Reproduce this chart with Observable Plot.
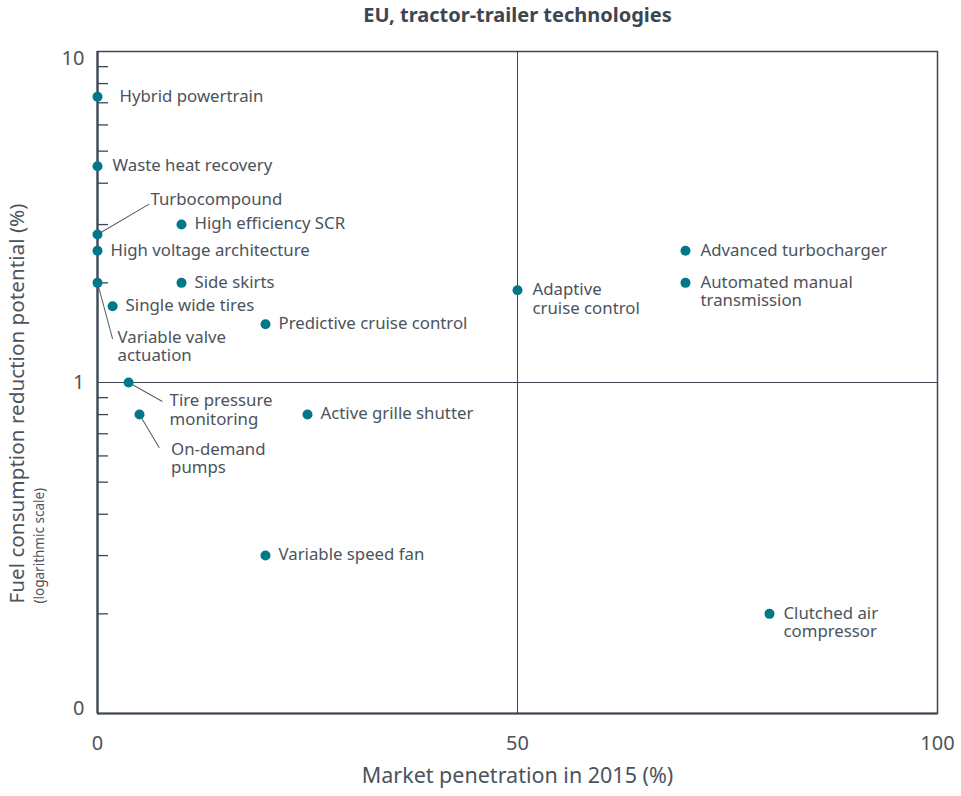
<!DOCTYPE html>
<html><head><meta charset="utf-8">
<script src="https://cdn.jsdelivr.net/npm/d3@7"></script>
<script src="https://cdn.jsdelivr.net/npm/@observablehq/plot@0.6"></script>
<style>
body{margin:0;background:#fff;font-family:"Noto Sans",sans-serif;}
#title{height:34px;line-height:30px;font-weight:700;font-size:20px;color:#3d4651;text-align:center;margin-left:74px;}
</style></head><body>
<div id="title">EU, tractor-trailer technologies</div>
<div id="chart"></div>
<script>
// ---- data ----
const technologies = ["Hybrid powertrain","Waste heat recovery","Turbocompound","High efficiency SCR","High voltage architecture","Side skirts","Variable valve actuation","Single wide tires","Predictive cruise control","Adaptive cruise control","Advanced turbocharger","Automated manual transmission","Tire pressure monitoring","On-demand pumps","Active grille shutter","Variable speed fan","Clutched air compressor"];
const labels = ["Hybrid powertrain","Waste heat recovery","Turbocompound","High efficiency SCR","High voltage architecture","Side skirts","Variable valve\nactuation","Single wide tires","Predictive cruise control","Adaptive\ncruise control","Advanced turbocharger","Automated manual\ntransmission","Tire pressure\nmonitoring","On-demand\npumps","Active grille shutter","Variable speed fan","Clutched air\ncompressor"];
const penetration = [0, 0, 0, 10, 0, 10, 0, 1.8, 20, 50, 70, 70, 3.7, 5, 25, 20, 80];
const reduction = [7.3, 4.5, 2.8, 3, 2.5, 2, 2, 1.7, 1.5, 1.9, 2.5, 2, 1, 0.8, 0.8, 0.3, 0.2];
const yTickValues = [0.1, 1, 10];
const yTickLabels = ["0", "1", "10"];
const xTickValues = [0, 50, 100];
const minorTickValues = [0.2,0.3,0.4,0.5,0.6,0.7,0.8,0.9,2,3,4,5,6,7,8,9];
const xTitle = "Market penetration in 2015 (%)";
const yTitle = "Fuel consumption reduction potential (%)";
const ySubtitle = "(logarithmic scale)";

// ---- layout (pixel offsets for annotations) ----
const labelLayout = {
  "Hybrid powertrain": {dx: 22},
  "Waste heat recovery": {dx: 15},
  "Turbocompound": {dx: 53, dy: -34, leader: [51.6, -30.3]},
  "Variable valve actuation": {dx: 20, dy: 55, leader: [15, 55.7]},
  "Tire pressure monitoring": {dx: 41, dy: 19, leader: [33.4, 18.7]},
  "On-demand pumps": {dx: 31.6, dy: 35.3, leader: [19.6, 33]},
  "Adaptive cruise control": {dx: 15},
  "Advanced turbocharger": {dx: 15},
  "Automated manual transmission": {dx: 15},
  "Clutched air compressor": {dx: 14}
};

const data = technologies.map((t, i) => ({tech: t, label: labels[i], x: penetration[i], y: reduction[i]}));

const ink = "#3d4651";
const textColor = "#4b535c";
const teal = "#00788a";
const fs = 16.8;

const lineShape = {draw(context, l) { context.moveTo(0, 0); context.lineTo(0, -l); }};

const leaderMarks = data.filter(d => labelLayout[d.tech] && labelLayout[d.tech].leader).map(d => {
  const [lx, ly] = labelLayout[d.tech].leader;
  const len = Math.hypot(lx, ly);
  const ang = Math.atan2(lx, -ly) * 180 / Math.PI;
  return Plot.vector([d], {x: "x", y: "y", length: len, rotate: ang, anchor: "start", shape: lineShape, stroke: "#555d66", strokeWidth: 1});
});

const labelMarks = data.map(d => {
  const l = labelLayout[d.tech] || {};
  return Plot.text([d], {x: "x", y: "y", text: "label", textAnchor: "start", lineAnchor: "top",
    dx: l.dx ?? 13, dy: (l.dy ?? 0) - 0.39 * fs - 2, fontSize: fs, lineHeight: 1.12, fill: textColor});
});

const chart = Plot.plot({
  width: 961,
  height: 762,
  marginTop: 17,
  marginBottom: 83,
  marginLeft: 97,
  marginRight: 24,
  style: {fontFamily: "'Noto Sans', sans-serif", color: textColor, background: "#fff", overflow: "visible"},
  x: {domain: [0, 100], label: null},
  y: {type: "log", domain: [0.1, 10], label: null},
  marks: [
    Plot.ruleX([50], {stroke: ink, strokeWidth: 1}),
    Plot.ruleY([1], {stroke: ink, strokeWidth: 1}),
    Plot.frame({stroke: ink, strokeWidth: 1.5}),
    Plot.ruleX([0], {stroke: ink, strokeWidth: 2.2}),
    Plot.ruleY([0.1], {stroke: ink, strokeWidth: 2.2}),
    Plot.axisY({ticks: minorTickValues, tickSize: 11, dx: 11, tickFormat: () => "", label: null, stroke: ink, strokeWidth: 1.3}),
    Plot.axisY({ticks: [10], tickSize: 0, tickPadding: 13, tickFormat: () => yTickLabels[2], fontSize: 20, dy: 7, label: null}),
    Plot.axisY({ticks: [1], tickSize: 0, tickPadding: 13, tickFormat: () => yTickLabels[1], fontSize: 20, label: null}),
    Plot.axisY({ticks: [0.1], tickSize: 0, tickPadding: 13, tickFormat: () => yTickLabels[0], fontSize: 20, dy: -5, label: null}),
    Plot.axisX({ticks: xTickValues, tickSize: 0, tickPadding: 22, fontSize: 20, label: null}),
    Plot.text([xTitle], {frameAnchor: "bottom", dy: 69, fontSize: 21.5, fill: textColor}),
    Plot.text([yTitle], {frameAnchor: "bottom-left", rotate: -90, textAnchor: "start", dx: -74, dy: -110, fontSize: 20.7, fill: textColor}),
    Plot.text([ySubtitle], {frameAnchor: "bottom-left", rotate: -90, textAnchor: "start", dx: -54, dy: -110, fontSize: 13.5, fill: textColor}),
    ...leaderMarks,
    Plot.dot(data, {x: "x", y: "y", r: 5, fill: teal, stroke: "none"}),
    ...labelMarks
  ]
});
document.getElementById("chart").appendChild(chart);
</script>
</body></html>
